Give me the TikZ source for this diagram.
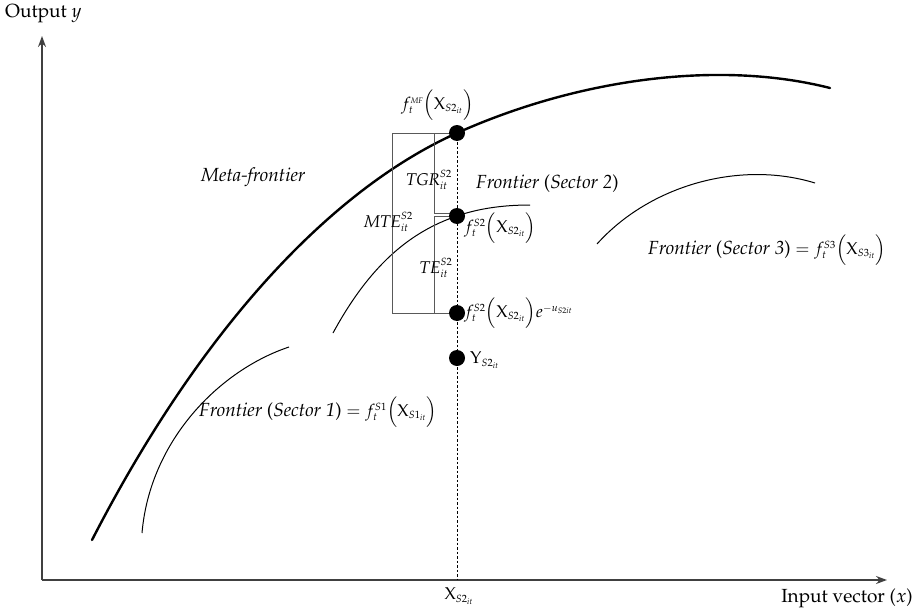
\documentclass[tikz,border=0pt]{standalone}
\usepackage[T1]{fontenc}
\usepackage{mathpazo}
\usepackage{tikz}
\usetikzlibrary{arrows.meta}
\DeclareMathSizes{17}{17}{10.5}{8}
\newcommand{\ms}[1]{{\fontsize{17}{20}\selectfont$#1$}}

\begin{document}
\begin{tikzpicture}[
  x=1pt, y=-1pt,
  font=\fontsize{19}{22}\selectfont,
  axis/.style={draw=black!75, line width=1.5pt, -{Stealth[length=11pt, width=8pt]}},
  meta/.style={line width=2.4pt, line cap=round},
  front/.style={line width=1pt},
  bar/.style={draw=black!65, line width=1pt},
  guide/.style={line width=1pt, dash pattern=on 2.5pt off 2pt},
  dot/.style={circle, fill=black, minimum size=16pt, inner sep=0pt},
  lab/.style={inner sep=1pt},
]
\useasboundingbox (0,0) rectangle (918,610);

\coordinate (O) at (42,580);
\coordinate (ytop) at (42,36);
\coordinate (xend) at (887,580);
\coordinate (xs) at (457,580);
\coordinate (pmf) at (457,133);
\coordinate (ps2) at (457,216);
\coordinate (pte) at (457,313);
\coordinate (py) at (457,358);

\draw[axis] (O) -- (ytop);
\draw[axis] (O) -- (xend);

\draw[meta] (92,540) .. controls (200,330) and (330,190) .. (pmf) .. controls (580,78) and (720,60) .. (830,88);
\draw[front] (142,533) .. controls (150,440) and (220,370) .. (289,347);
\draw[front] (333,333) .. controls (370,265) and (410,232) .. (ps2) .. controls (480,208) and (505,205) .. (530,205);
\draw[front] (597,244) .. controls (650,185) and (740,160) .. (815,183);

\draw[bar] (pmf) -- (392,133) -- (392,313) -- (pte);
\draw[bar] (434,133) -- (434,313);
\draw[bar, line width=.8pt, double, double distance=1.8pt] (434,215) -- (455,215);

\draw[guide] (pmf) -- (xs);

\node[dot] (mf) at (pmf) {};
\node[dot] (s2) at (ps2) {};
\node[dot] (te) at (pte) {};
\node[dot] (y) at (py) {};

\node[lab, anchor=west] (lmf) at (400,105) {\ms{f_t^{\scriptscriptstyle \mathit{MF}}\Bigl(\mathrm{X}_{S2_{it}}\Bigr)}};
\node[lab, anchor=west] (lmeta) at (200,177) {\textit{Meta-frontier}};
\node[lab] (ltgr) at (429,180) {\ms{\mathit{TGR}_{it}^{S2}}};
\node[lab, anchor=west] (lfs2) at (475,184) {\textit{Frontier} (\textit{Sector 2})};
\node[lab, anchor=east] (lmte) at (414,222) {\ms{\mathit{MTE}_{it}^{S2}}};
\node[lab, anchor=west] (ls2) at (463,228) {\ms{f_t^{S2}\Bigl(\mathrm{X}_{S2_{it}}\Bigr)}};
\node[lab] (lte) at (436,268) {\ms{\mathit{TE}_{it}^{S2}}};
\node[lab, anchor=west] (lte2) at (463,313) {\ms{f_t^{S2}\Bigl(\mathrm{X}_{S2_{it}}\Bigr)e^{-u_{S2it}}}};
\node[lab, anchor=west] (ly) at (469,360) {\ms{\mathrm{Y}_{S2_{it}}}};
\node[lab, anchor=west] (lfs3) at (647,250) {\textit{Frontier} (\textit{Sector 3}) \ms{=f_t^{S3}\Bigl(\mathrm{X}_{S3_{it}}\Bigr)}};
\node[lab, anchor=west] (lfs1) at (198,412) {\textit{Frontier} (\textit{Sector 1}) \ms{=f_t^{S1}\Bigl(\mathrm{X}_{S1_{it}}\Bigr)}};
\node[lab] (lxs) at (459,596) {\ms{\mathrm{X}_{S2_{it}}}};
\node[lab, anchor=east] (lx) at (914,598) {Input vector ($x$)};
\node[lab, anchor=west] (ly0) at (4,14) {Output $y$};
\end{tikzpicture}
\end{document}
